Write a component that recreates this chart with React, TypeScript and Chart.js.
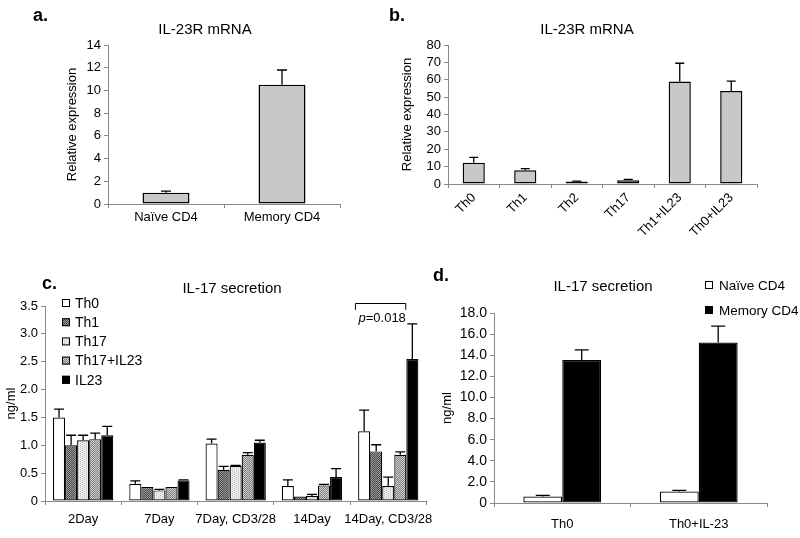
import React, { useEffect, useRef } from 'react';
import { Chart, registerables } from 'chart.js';

Chart.register(...registerables);

const FONT = "'Liberation Sans', Arial, Helvetica, sans-serif";
Chart.defaults.font.family = FONT;
Chart.defaults.color = '#000';

// ---------- Panel a ----------
const aCategories = ['Naïve CD4', 'Memory CD4'];
const aValues = [1.0, 10.5];
const aErrTop = [1.13, 11.8];

// ---------- Panel b ----------
const bCategories = ['Th0', 'Th1', 'Th2', 'Th17', 'Th1+IL23', 'Th0+IL23'];
const bValues = [12.2, 7.9, 1.5, 2.2, 59, 53.5];
const bErrTop = [15.3, 8.8, 1.7, 2.7, 69.5, 59.2];

// ---------- Panel c ----------
const cCategories = ['2Day', '7Day', '7Day, CD3/28', '14Day', '14Day, CD3/28'];
const cSeriesNames = ['Th0', 'Th1', 'Th17', 'Th17+IL23', 'IL23'];
const cTh0 = [1.5, 0.31, 1.03, 0.27, 1.25];
const cTh0Err = [1.65, 0.36, 1.11, 0.38, 1.63];
const cTh1 = [1.0, 0.25, 0.56, 0.08, 0.89];
const cTh1Err = [1.18, 0.25, 0.62, 0.08, 1.01];
const cTh17 = [1.09, 0.19, 0.63, 0.09, 0.27];
const cTh17Err = [1.18, 0.21, 0.64, 0.12, 0.43];
const cTh17IL23 = [1.11, 0.25, 0.83, 0.28, 0.83];
const cTh17IL23Err = [1.22, 0.25, 0.87, 0.3, 0.88];
const cIL23 = [1.18, 0.37, 1.05, 0.43, 2.55];
const cIL23Err = [1.34, 0.38, 1.09, 0.58, 3.18];
const cPValue = '0.018';

// ---------- Panel d ----------
const dCategories = ['Th0', 'Th0+IL-23'];
const dSeriesNames = ['Naïve CD4', 'Memory CD4'];
const dNaive = [0.62, 1.1];
const dNaiveErr = [0.72, 1.2];
const dMemory = [13.55, 15.2];
const dMemoryErr = [14.5, 16.75];

const AXIS = '#8a8a8a';
const BAR_GRAY = '#c8c8c8';

function makePattern(bg: string, fg: string, kind: 'checker' | 'vlines') {
  const c = document.createElement('canvas');
  c.width = 4;
  c.height = 4;
  const g = c.getContext('2d')!;
  g.fillStyle = bg;
  g.fillRect(0, 0, 4, 4);
  g.fillStyle = fg;
  if (kind === 'checker') {
    g.fillRect(0, 0, 1, 1);
    g.fillRect(2, 0, 1, 1);
    g.fillRect(1, 1, 1, 1);
    g.fillRect(3, 1, 1, 1);
    g.fillRect(0, 2, 1, 1);
    g.fillRect(2, 2, 1, 1);
    g.fillRect(1, 3, 1, 1);
    g.fillRect(3, 3, 1, 1);
  } else {
    g.fillRect(0, 0, 1, 1);
    g.fillRect(0, 2, 1, 1);
    g.fillRect(2, 1, 1, 1);
    g.fillRect(2, 3, 1, 1);
  }
  return g.createPattern(c, 'repeat')!;
}

function makeErrorBars(cap: number) {
  return {
    id: 'errorBars',
    afterDatasetsDraw(chart: any) {
      const ctx = chart.ctx;
      const yScale = chart.scales.y;
      ctx.save();
      ctx.strokeStyle = '#000';
      ctx.lineWidth = 1.3;
      chart.data.datasets.forEach((ds: any, di: number) => {
        const err = ds.errTop as number[] | undefined;
        if (!err) return;
        const meta = chart.getDatasetMeta(di);
        meta.data.forEach((bar: any, i: number) => {
          const top = err[i];
          const v = ds.data[i];
          if (top == null || top <= v) return;
          const x = bar.x;
          const y0 = bar.y;
          const y1 = yScale.getPixelForValue(top);
          const hw = Math.min(cap, bar.width * 0.45);
          ctx.beginPath();
          ctx.moveTo(x, y0);
          ctx.lineTo(x, y1);
          ctx.moveTo(x - hw, y1);
          ctx.lineTo(x + hw, y1);
          ctx.stroke();
        });
      });
      ctx.restore();
    },
  };
}

function makeLegend(o: { x: number; y: number; step: number; box: number; gap: number; size: number }) {
  return {
    id: 'boxLegend',
    afterDraw(chart: any) {
      const ctx = chart.ctx;
      ctx.save();
      ctx.font = `${o.size}px ${FONT}`;
      ctx.textBaseline = 'middle';
      ctx.textAlign = 'left';
      chart.data.datasets.forEach((ds: any, i: number) => {
        const y = o.y + i * o.step;
        ctx.fillStyle = ds.backgroundColor;
        ctx.fillRect(o.x, y - o.box / 2, o.box, o.box);
        ctx.strokeStyle = '#000';
        ctx.lineWidth = 1;
        ctx.strokeRect(o.x + 0.5, y - o.box / 2 + 0.5, o.box - 1, o.box - 1);
        ctx.fillStyle = '#000';
        ctx.fillText(ds.label, o.x + o.box + o.gap, y + 1);
      });
      ctx.restore();
    },
  };
}

function makeBracket(o: {
  group: number;
  from: number;
  to: number;
  top: number;
  bottom: number;
  textFrom: number;
  textY: number;
  text: string;
}) {
  return {
    id: 'bracket',
    afterDatasetsDraw(chart: any) {
      const ctx = chart.ctx;
      const xs = chart.scales.x;
      const ys = chart.scales.y;
      const cw = (xs.right - xs.left) / chart.data.labels.length;
      const cx = xs.getPixelForValue(o.group);
      const x1 = cx + o.from * cw;
      const x2 = cx + o.to * cw;
      const yt = Math.round(ys.getPixelForValue(o.top)) + 0.5;
      const yb = ys.getPixelForValue(o.bottom);
      ctx.save();
      ctx.strokeStyle = '#000';
      ctx.lineWidth = 1;
      ctx.beginPath();
      ctx.moveTo(x1, yb);
      ctx.lineTo(x1, yt);
      ctx.lineTo(x2, yt);
      ctx.lineTo(x2, yb);
      ctx.stroke();
      ctx.fillStyle = '#000';
      ctx.textBaseline = 'middle';
      ctx.textAlign = 'left';
      const tx = cx + o.textFrom * cw;
      const ty = ys.getPixelForValue(o.textY);
      ctx.font = `italic 13px ${FONT}`;
      ctx.fillText('p', tx, ty);
      const pw = ctx.measureText('p').width;
      ctx.font = `13px ${FONT}`;
      ctx.fillText('=' + o.text, tx + pw, ty);
      ctx.restore();
    },
  };
}

type ScaleOpts = {
  max: number;
  step: number;
  fmt: (v: number) => string;
  yTitle: string;
  yWidth: number;
  xHeight: number;
  xPad: number;
  rotate?: boolean;
  yTickSize?: number;
};

function makeScales(s: ScaleOpts) {
  return {
    x: {
      grid: {
        offset: true,
        drawOnChartArea: false,
        drawTicks: true,
        tickLength: 4,
        color: AXIS,
      },
      border: { color: AXIS, width: 1 },
      ticks: {
        color: '#000',
        font: { size: 13 },
        padding: s.xPad,
        autoSkip: false,
        maxRotation: s.rotate ? 45 : 0,
        minRotation: s.rotate ? 45 : 0,
      },
      afterFit: (sc: any) => {
        sc.height = s.xHeight;
      },
    },
    y: {
      min: 0,
      max: s.max,
      grid: {
        drawOnChartArea: false,
        drawTicks: true,
        tickLength: 4,
        color: AXIS,
      },
      border: { color: AXIS, width: 1 },
      ticks: {
        stepSize: s.step,
        autoSkip: false,
        color: '#000',
        font: { size: s.yTickSize ?? 13 },
        padding: 3,
        callback: (v: any) => s.fmt(Number(v)),
      },
      title: {
        display: true,
        text: s.yTitle,
        color: '#000',
        font: { size: 13 },
        padding: { top: 0, bottom: 0 },
      },
      afterFit: (sc: any) => {
        sc.width = s.yWidth;
      },
    },
  };
}

const baseOptions = (padding: any, scales: any) => ({
  responsive: false,
  animation: false as const,
  events: [] as any[],
  layout: { padding },
  plugins: {
    legend: { display: false },
    tooltip: { enabled: false },
    title: { display: false },
  },
  scales,
});

const intFmt = (v: number) => String(Math.round(v));
const oneDec = (v: number) => (v === 0 ? '0' : v.toFixed(1));

function buildA() {
  return {
    type: 'bar' as const,
    data: {
      labels: aCategories,
      datasets: [
        {
          label: 'IL-23R mRNA',
          data: aValues,
          errTop: aErrTop,
          backgroundColor: BAR_GRAY,
          borderColor: '#000',
          borderWidth: 1.5,
          borderSkipped: false,
          barPercentage: 0.405,
          categoryPercentage: 1,
        },
      ],
    },
    options: baseOptions(
      { left: 65, top: 45, right: 60, bottom: 0 },
      makeScales({ max: 14, step: 2, fmt: intFmt, yTitle: 'Relative expression', yWidth: 43, xHeight: 36, xPad: 2 })
    ),
    plugins: [makeErrorBars(5)],
  };
}

function buildB() {
  return {
    type: 'bar' as const,
    data: {
      labels: bCategories,
      datasets: [
        {
          label: 'IL-23R mRNA',
          data: bValues,
          errTop: bErrTop,
          backgroundColor: BAR_GRAY,
          borderColor: '#000',
          borderWidth: 1.5,
          borderSkipped: false,
          barPercentage: 0.43,
          categoryPercentage: 1,
        },
      ],
    },
    options: baseOptions(
      { left: 5, top: 45, right: 43, bottom: 0 },
      makeScales({ max: 80, step: 10, fmt: intFmt, yTitle: 'Relative expression', yWidth: 48, xHeight: 76, xPad: 2, rotate: true })
    ),
    plugins: [makeErrorBars(4.5)],
  };
}

function buildC() {
  const fills = [
    '#ffffff',
    makePattern('#9a9a9a', '#4a4a4a', 'checker'),
    makePattern('#eeeeee', '#bdbdbd', 'vlines'),
    makePattern('#cfcfcf', '#808080', 'checker'),
    '#000000',
  ];
  const vals = [cTh0, cTh1, cTh17, cTh17IL23, cIL23];
  const errs = [cTh0Err, cTh1Err, cTh17Err, cTh17IL23Err, cIL23Err];
  return {
    type: 'bar' as const,
    data: {
      labels: cCategories,
      datasets: cSeriesNames.map((name, i) => ({
        label: name,
        data: vals[i],
        errTop: errs[i],
        backgroundColor: fills[i],
        borderColor: '#000',
        borderWidth: 1.2,
        borderSkipped: false,
        barPercentage: 1,
        categoryPercentage: 0.79,
      })),
    },
    options: baseOptions(
      { left: 4, top: 41, right: 8, bottom: 0 },
      makeScales({ max: 3.5, step: 0.5, fmt: oneDec, yTitle: 'ng/ml', yWidth: 41, xHeight: 37, xPad: 7 })
    ),
    plugins: [
      makeErrorBars(5),
      makeLegend({ x: 62, y: 38, step: 19.2, box: 8, gap: 5, size: 14 }),
      makeBracket({
        group: 4,
        from: -0.43,
        to: 0.23,
        top: 3.555,
        bottom: 3.43,
        textFrom: -0.39,
        textY: 3.27,
        text: cPValue,
      }),
    ],
  };
}

function buildD() {
  const fills = ['#ffffff', '#000000'];
  const vals = [dNaive, dMemory];
  const errs = [dNaiveErr, dMemoryErr];
  return {
    type: 'bar' as const,
    data: {
      labels: dCategories,
      datasets: dSeriesNames.map((name, i) => ({
        label: name,
        data: vals[i],
        errTop: errs[i],
        backgroundColor: fills[i],
        borderColor: '#000',
        borderWidth: 1.3,
        borderSkipped: false,
        barPercentage: 1,
        categoryPercentage: 0.57,
      })),
    },
    options: baseOptions(
      { left: 5, top: 48, right: 33, bottom: 0 },
      makeScales({ max: 18, step: 2, fmt: oneDec, yTitle: 'ng/ml', yWidth: 54, xHeight: 35, xPad: 10, yTickSize: 14 })
    ),
    plugins: [makeErrorBars(7), makeLegend({ x: 270, y: 20, step: 25, box: 8, gap: 6, size: 13.5 })],
  };
}

function ChartCanvas(props: { left: number; top: number; width: number; height: number; build: () => any }) {
  const ref = useRef<HTMLCanvasElement>(null);
  useEffect(() => {
    const chart = new Chart(ref.current as HTMLCanvasElement, props.build());
    return () => chart.destroy();
  }, []);
  return (
    <canvas
      ref={ref}
      width={props.width}
      height={props.height}
      style={{ position: 'absolute', left: props.left, top: props.top, width: props.width, height: props.height }}
    />
  );
}

function Label(props: { x: number; y: number; text: string; size: number; bold?: boolean; center?: boolean }) {
  return (
    <div
      style={{
        position: 'absolute',
        left: props.x,
        top: props.y,
        transform: props.center ? 'translate(-50%, -50%)' : 'translate(0, -50%)',
        fontFamily: FONT,
        fontSize: props.size,
        fontWeight: props.bold ? 'bold' : 'normal',
        whiteSpace: 'nowrap',
        lineHeight: 1,
        color: '#000',
      }}
    >
      {props.text}
    </div>
  );
}

export default function App() {
  return (
    <div
      style={{
        position: 'fixed',
        left: 0,
        top: 0,
        width: 800,
        height: 538,
        background: '#fff',
        overflow: 'hidden',
      }}
    >
      <ChartCanvas left={0} top={0} width={400} height={240} build={buildA} />
      <ChartCanvas left={395} top={0} width={405} height={260} build={buildB} />
      <ChartCanvas left={0} top={265} width={440} height={273} build={buildC} />
      <ChartCanvas left={435} top={265} width={365} height={273} build={buildD} />

      <Label x={33} y={15} text="a." size={18} bold />
      <Label x={205} y={28} text="IL-23R mRNA" size={15} center />
      <Label x={389} y={15} text="b." size={18} bold />
      <Label x={587} y={28} text="IL-23R mRNA" size={15} center />
      <Label x={42} y={283} text="c." size={18} bold />
      <Label x={232} y={287} text="IL-17 secretion" size={15} center />
      <Label x={433} y={275} text="d." size={18} bold />
      <Label x={603} y={285} text="IL-17 secretion" size={15} center />
    </div>
  );
}
